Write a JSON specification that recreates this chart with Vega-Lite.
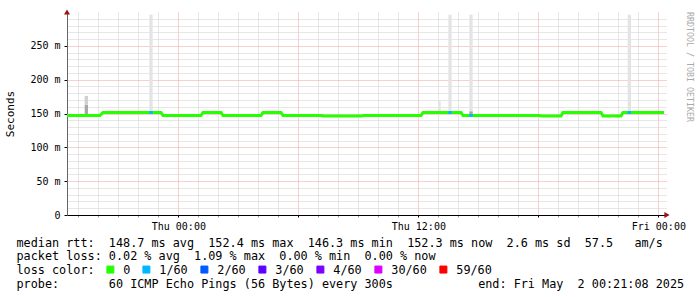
{
  "$schema": "https://vega.github.io/schema/vega-lite/v6.json",
  "width": 600,
  "height": 203,
  "autosize": {"type": "none"},
  "padding": {"left": 67, "top": 12, "right": 30, "bottom": 82},
  "background": "white",
  "config": {"view": {"stroke": null}, "font": "DejaVu Sans Mono", "title": {"fontSize": 8.3}},
  "title": {
    "text": "RRDTOOL / TOBI OETIKER",
    "orient": "right",
    "anchor": "start",
    "frame": "group",
    "font": "DejaVu Sans Mono",
    "fontSize": 8.3,
    "fontWeight": "normal",
    "color": "#aaaaaa",
    "offset": 0
  },
  "datasets": {
    "median": [
      {"t": "2025-04-30T18:26:00", "v": 147.0, "loss": "0"},
      {"t": "2025-04-30T20:05:00", "v": 147.0, "loss": "0"},
      {"t": "2025-04-30T20:14:00", "v": 151.5, "loss": "0"},
      {"t": "2025-04-30T23:08:00", "v": 151.5, "loss": "0"},
      {"t": "2025-04-30T23:14:00", "v": 147.0, "loss": "0"},
      {"t": "2025-05-01T01:08:00", "v": 147.0, "loss": "0"},
      {"t": "2025-05-01T01:14:00", "v": 151.5, "loss": "0"},
      {"t": "2025-05-01T02:08:00", "v": 151.5, "loss": "0"},
      {"t": "2025-05-01T02:14:00", "v": 147.0, "loss": "0"},
      {"t": "2025-05-01T04:08:00", "v": 147.0, "loss": "0"},
      {"t": "2025-05-01T04:14:00", "v": 151.5, "loss": "0"},
      {"t": "2025-05-01T05:08:00", "v": 151.5, "loss": "0"},
      {"t": "2025-05-01T05:14:00", "v": 147.0, "loss": "0"},
      {"t": "2025-05-01T07:10:00", "v": 147.0, "loss": "0"},
      {"t": "2025-05-01T07:15:00", "v": 146.4, "loss": "0"},
      {"t": "2025-05-01T09:10:00", "v": 146.4, "loss": "0"},
      {"t": "2025-05-01T09:15:00", "v": 147.0, "loss": "0"},
      {"t": "2025-05-01T12:08:00", "v": 147.0, "loss": "0"},
      {"t": "2025-05-01T12:14:00", "v": 151.5, "loss": "0"},
      {"t": "2025-05-01T14:08:00", "v": 151.5, "loss": "0"},
      {"t": "2025-05-01T14:14:00", "v": 147.0, "loss": "0"},
      {"t": "2025-05-01T18:03:00", "v": 147.0, "loss": "0"},
      {"t": "2025-05-01T18:08:00", "v": 146.3, "loss": "0"},
      {"t": "2025-05-01T19:08:00", "v": 146.3, "loss": "0"},
      {"t": "2025-05-01T19:14:00", "v": 151.5, "loss": "0"},
      {"t": "2025-05-01T21:08:00", "v": 151.5, "loss": "0"},
      {"t": "2025-05-01T21:14:00", "v": 146.3, "loss": "0"},
      {"t": "2025-05-01T22:08:00", "v": 146.3, "loss": "0"},
      {"t": "2025-05-01T22:14:00", "v": 151.5, "loss": "0"},
      {"t": "2025-05-02T00:17:00", "v": 151.5, "loss": "0"}
    ],
    "loss": [
      {"t": "2025-04-30T22:33:00", "t2": "2025-04-30T22:43:00", "v": 151.5, "loss": "1/60"},
      {"t": "2025-05-01T13:30:00", "t2": "2025-05-01T13:40:00", "v": 151.5, "loss": "1/60"},
      {"t": "2025-05-01T14:33:00", "t2": "2025-05-01T14:43:00", "v": 147.0, "loss": "1/60"},
      {"t": "2025-05-01T22:28:00", "t2": "2025-05-01T22:38:00", "v": 151.5, "loss": "1/60"}
    ],
    "smoke": [
      {"t": "2025-04-30T19:19:00", "t2": "2025-04-30T19:29:00", "v": 148.5, "v2": 163, "part": "dark"},
      {"t": "2025-04-30T19:19:00", "t2": "2025-04-30T19:29:00", "v": 163, "v2": 176, "part": "light"},
      {"t": "2025-04-30T22:33:00", "t2": "2025-04-30T22:43:00", "v": 151.5, "v2": 296, "part": "pale"},
      {"t": "2025-05-01T13:00:00", "t2": "2025-05-01T13:07:00", "v": 147, "v2": 170, "part": "pale"},
      {"t": "2025-05-01T13:30:00", "t2": "2025-05-01T13:40:00", "v": 151.5, "v2": 296, "part": "pale"},
      {"t": "2025-05-01T14:33:00", "t2": "2025-05-01T14:43:00", "v": 147, "v2": 296, "part": "pale"},
      {"t": "2025-05-01T14:33:00", "t2": "2025-05-01T14:43:00", "v": 147, "v2": 153, "part": "dark"},
      {"t": "2025-05-01T22:28:00", "t2": "2025-05-01T22:38:00", "v": 151.5, "v2": 296, "part": "pale"}
    ],
    "axisEnds": [
      {"t": "2025-04-30T18:26:00", "v": 300, "dir": "up"},
      {"t": "2025-05-02T00:26:00", "v": 0, "dir": "right"}
    ]
  },
  "encoding": {
    "x": {
      "field": "t",
      "type": "temporal",
      "scale": {
        "domain": [
          {"year": 2025, "month": 4, "date": 30, "hours": 18, "minutes": 26},
          {"year": 2025, "month": 5, "date": 2, "hours": 0, "minutes": 26}
        ],
        "nice": false
      },
      "axis": {
        "tickCount": 30,
        "labelExpr": "hours(datum.value) % 12 == 0 ? timeFormat(datum.value, '%a %H:%M') : ''",
        "labelFont": "DejaVu Sans Mono",
        "labelFontSize": 10,
        "labelColor": "#000000",
        "labelFlush": false,
        "labelOverlap": false,
        "labelPadding": 4,
        "labelAngle": 0,
        "tickSize": 2,
        "tickColor": {"condition": {"test": "hours(datum.value) % 6 == 0", "value": "#000000"}, "value": "#999999"},
        "domainColor": "#000000",
        "grid": true,
        "gridColor": {"condition": {"test": "hours(datum.value) % 6 == 0", "value": "#f2a0a0"}, "value": "#cfcfcf"},
        "gridDash": [1, 1],
        "title": [
          "median rtt:\u00a0\u00a0148.7 ms avg\u00a0\u00a0152.4 ms max\u00a0\u00a0146.3 ms min\u00a0\u00a0152.3 ms now\u00a0\u00a02.6 ms sd\u00a0\u00a057.5\u00a0\u00a0\u00a0am/s",
          "packet loss: 0.02 % avg\u00a0\u00a01.09 % max\u00a0\u00a00.00 % min\u00a0\u00a00.00 % now",
          "loss color:",
          "probe:\u00a0\u00a0\u00a0\u00a0\u00a0\u00a0\u00a060 ICMP Echo Pings (56 Bytes) every 300s\u00a0\u00a0\u00a0\u00a0\u00a0\u00a0\u00a0\u00a0\u00a0\u00a0\u00a0\u00a0end: Fri May\u00a0\u00a02 00:21:08 2025"
        ],
        "titleX": -51,
        "titleY": 31,
        "titleAlign": "left",
        "titleAnchor": "start",
        "titleBaseline": "alphabetic",
        "titleAngle": 0,
        "titleFont": "DejaVu Sans Mono",
        "titleFontSize": 11.8,
        "titleFontWeight": "normal",
        "titleColor": "#000000",
        "titleLineHeight": 13.8
      }
    },
    "y": {
      "field": "v",
      "type": "quantitative",
      "scale": {"domain": [0, 300], "nice": false, "zero": true},
      "axis": {
        "values": [0, 10, 20, 30, 40, 50, 60, 70, 80, 90, 100, 110, 120, 130, 140, 150, 160, 170, 180, 190, 200, 210, 220, 230, 240, 250, 260, 270, 280, 290],
        "labelExpr": "datum.value % 50 == 0 ? (datum.value == 0 ? '0\u00a0\u00a0' : datum.value + ' m') : ''",
        "labelFont": "DejaVu Sans Mono",
        "labelFontSize": 10,
        "labelColor": "#000000",
        "labelPadding": 4,
        "labelOverlap": false,
        "labelFlush": false,
        "tickSize": 3,
        "tickColor": {"condition": {"test": "datum.value % 50 == 0", "value": "#000000"}, "value": "rgba(0,0,0,0)"},
        "domainColor": "#666666",
        "grid": true,
        "gridColor": {"condition": {"test": "datum.value % 50 == 0", "value": "#f2a0a0"}, "value": "#cfcfcf"},
        "gridDash": [1, 1],
        "title": "Seconds",
        "titleFont": "DejaVu Sans Mono",
        "titleFontSize": 11,
        "titleFontWeight": "normal",
        "titleColor": "#000000",
        "titleX": -57,
        "titleY": 101.5,
        "titleAngle": 270,
        "titleAlign": "center",
        "titleBaseline": "middle"
      }
    }
  },
  "layer": [
    {
      "data": {"name": "smoke"},
      "mark": {"type": "rect"},
      "encoding": {
        "x2": {"field": "t2"},
        "y2": {"field": "v2"},
        "fill": {
          "field": "part",
          "type": "nominal",
          "scale": {"domain": ["dark", "light", "pale"], "range": ["#a8a8a8", "#d0d0d0", "#e4e4e4"]},
          "legend": null
        }
      }
    },
    {
      "data": {"name": "median"},
      "mark": {"type": "line", "strokeWidth": 3, "strokeCap": "butt", "strokeJoin": "miter", "interpolate": "linear"},
      "encoding": {
        "color": {
          "field": "loss",
          "type": "nominal",
          "scale": {
            "domain": ["0", "1/60", "2/60", "3/60", "4/60", "30/60", "59/60"],
            "range": ["#26ff00", "#00b8ff", "#0059ff", "#5e00ff", "#7e00ff", "#dd00ff", "#ff0000"]
          },
          "legend": {
            "orient": "none",
            "legendX": 37.5,
            "legendY": 251.5,
            "direction": "horizontal",
            "title": null,
            "padding": 0,
            "symbolType": "square",
            "symbolSize": 49,
            "symbolStrokeWidth": 1,
            "symbolStrokeColor": "#000000",
            "labelFont": "DejaVu Sans Mono",
            "labelFontSize": 11.8,
            "labelColor": "#000000",
            "labelOffset": 7,
            "columnPadding": 10,
            "encode": {
              "symbols": {
                "enter": {
                  "stroke": {"value": "#000000"},
                  "strokeWidth": {"value": 1}
                },
                "update": {
                  "fill": {"scale": "color", "field": "value"},
                  "stroke": {"value": "#000000"},
                  "strokeWidth": {"value": 1},
                  "strokeOpacity": {"value": 1},
                  "fillOpacity": {"value": 1},
                  "opacity": {"value": 1}
                }
              }
            }
          }
        }
      }
    },
    {
      "data": {"name": "loss"},
      "mark": {"type": "rule", "strokeWidth": 3, "strokeCap": "butt"},
      "encoding": {
        "x2": {"field": "t2"},
        "color": {"field": "loss", "type": "nominal"}
      }
    },
    {
      "data": {"name": "axisEnds"},
      "mark": {"type": "point", "filled": true, "size": 36, "color": "#a01010", "opacity": 1},
      "encoding": {
        "shape": {
          "field": "dir",
          "type": "nominal",
          "scale": {"domain": ["up", "right"], "range": ["triangle-up", "triangle-right"]},
          "legend": null
        }
      }
    }
  ]
}
